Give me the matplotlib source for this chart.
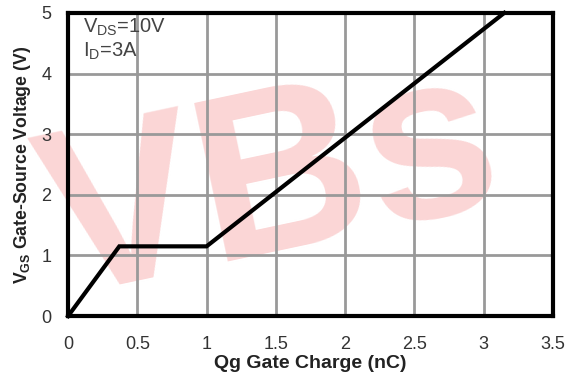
import matplotlib.pyplot as plt

# gate charge curve (nC, V)
qg = [0, 0.37, 1.0, 3.15]
vgs = [0, 1.15, 1.15, 5.0]

xticks = [0, 0.5, 1, 1.5, 2, 2.5, 3, 3.5]
xtick_labels = ['0', '0.5', '1', '1.5', '2', '2.5', '3', '3.5']
yticks = [0, 1, 2, 3, 4, 5]

plt.rcParams['font.family'] = ['Liberation Sans', 'DejaVu Sans']
plt.rcParams['mathtext.fontset'] = 'custom'
plt.rcParams['mathtext.rm'] = 'Liberation Sans'
plt.rcParams['mathtext.bf'] = 'Liberation Sans:bold'

fig = plt.figure(figsize=(5.77, 3.79), dpi=100)

# faint red watermark behind the chart
fig.text(0.04, 0.22, 'VBs', fontsize=170, fontweight='bold', color='#fbd6d6',
         rotation=12, zorder=0)

ax = fig.add_axes([0.118, 0.166, 0.840, 0.800])
ax.set_zorder(2)
ax.set_facecolor('none')

ax.plot(qg, vgs, color='black', linewidth=3, solid_joinstyle='miter',
        zorder=3, clip_on=False)

ax.set_xlim(0, 3.5)
ax.set_ylim(0, 5)
ax.set_xticks(xticks)
ax.set_xticklabels(xtick_labels)
ax.set_yticks(yticks)
ax.grid(True, color='#999999', linewidth=2)
ax.tick_params(length=0, labelsize=13, colors='#333333')
ax.tick_params(axis='x', pad=14)
ax.tick_params(axis='y', pad=12)
for s in ax.spines.values():
    s.set_linewidth(3)
    s.set_color('black')

ax.set_xlabel('Qg Gate Charge (nC)', fontweight='bold', fontsize=14,
              color='#222222', labelpad=2)
ax.set_ylabel(r'$\mathbf{V_{GS}}$ Gate-Source Voltage (V)', fontweight='bold',
              fontsize=12.7, color='#222222', labelpad=6)

ax.text(0.11, 4.67, r'V$_{\rm DS}$=10V', fontsize=14.5, color='#444444')
ax.text(0.11, 4.27, r'I$_{\rm D}$=3A', fontsize=14.5, color='#444444')

fig.savefig('out.png', dpi=100)
